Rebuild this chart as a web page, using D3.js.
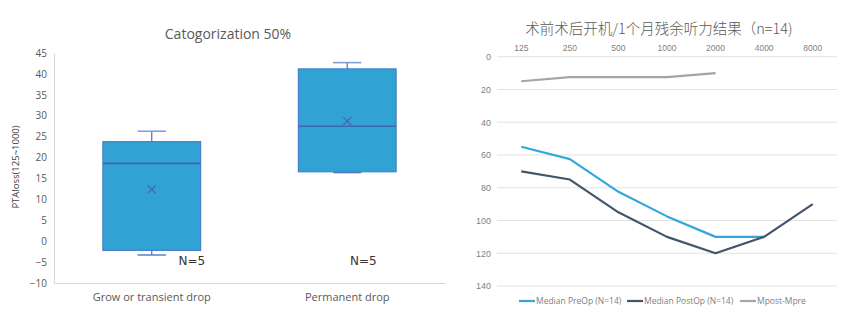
<!DOCTYPE html>
<html>
<head>
<meta charset="utf-8">
<script src="https://cdn.jsdelivr.net/npm/d3@7"></script>
<style>
  body { margin: 0; background: #fff; }
  svg { display: block; font-family: "Open Sans", "Noto Sans", sans-serif; }
</style>
</head>
<body>
<svg id="drawing_region"></svg>
<script>
// left chart: box plot stats
const boxCategories = ["Grow or transient drop", "Permanent drop"];
const whiskerHigh = [26.3, 42.7];
const q3Values = [23.8, 41.2];
const medianValues = [18.6, 27.5];
const meanValues = [12.4, 28.7];
const q1Values = [-2.2, 16.6];
const whiskerLow = [-3.3, 16.4];
const nLabels = ["N=5", "N=5"];
const boxTicks = d3.range(-10, 50, 5);

// right chart: audiogram
const freqs = ["125", "250", "500", "1000", "2000", "4000", "8000"];
const preOp = [55, 62.5, 82.5, 97.5, 110, 110, null];
const postOp = [70, 75, 95, 110, 120, 110, 90];
const diffPost = [15, 12.5, 12.5, 12.5, 10, null, null];
const hearingTicks = [0, 20, 40, 60, 80, 100, 120, 140];
const seriesNames = ["Median PreOp (N=14)", "Median PostOp (N=14)", "Mpost-Mpre"];

const svg = d3.select('#drawing_region')
    .attr('width', 856)
    .attr('height', 320);

// ---------- left: box plot ----------
const bx = d3.scaleBand().domain(boxCategories).range([54, 445]);
const by = d3.scaleLinear().domain([-10, 45]).range([283, 53]);

svg.append('text')
    .attr('x', 228).attr('y', 39)
    .attr('text-anchor', 'middle')
    .attr('font-size', '14px')
    .attr('fill', '#595959')
    .text('Catogorization 50%');

svg.append('text')
    .attr('transform', 'translate(19,167) rotate(-90)')
    .attr('text-anchor', 'middle')
    .attr('font-size', '9.5px')
    .attr('fill', '#404040')
    .text('PTAloss(125~1000)');

const yAxisL = svg.append('g')
    .attr('transform', 'translate(54,0)')
    .call(d3.axisLeft(by).tickValues(boxTicks).tickSize(0).tickPadding(7));
yAxisL.select('.domain').attr('stroke', '#d9d9d9');
yAxisL.selectAll('text').attr('font-size', '10px').attr('fill', '#595959')
    .attr('font-family', '"Open Sans", sans-serif');

const xAxisL = svg.append('g')
    .attr('transform', `translate(0,${by(-10)})`)
    .call(d3.axisBottom(bx).tickSize(0).tickPadding(10));
xAxisL.select('.domain').attr('stroke', '#d9d9d9');
xAxisL.selectAll('text').attr('font-size', '11px').attr('fill', '#595959')
    .attr('font-family', '"Open Sans", sans-serif');

const boxW = bx.bandwidth() * 0.5;
const capW = boxW * 0.29;
const boxes = svg.append('g').selectAll('g')
    .data(boxCategories)
    .join('g')
    .attr('transform', d => `translate(${bx(d) + bx.bandwidth() / 2},0)`);

boxes.append('line')
    .attr('y1', (d, i) => by(whiskerHigh[i]))
    .attr('y2', (d, i) => by(q3Values[i]))
    .attr('stroke', '#4472c4').attr('stroke-width', 1.2);
boxes.append('line')
    .attr('y1', (d, i) => by(whiskerLow[i]))
    .attr('y2', (d, i) => by(q1Values[i]))
    .attr('stroke', '#4472c4').attr('stroke-width', 1.2);
boxes.append('line')
    .attr('x1', -capW / 2).attr('x2', capW / 2)
    .attr('y1', (d, i) => by(whiskerHigh[i]))
    .attr('y2', (d, i) => by(whiskerHigh[i]))
    .attr('stroke', '#7d9bd6').attr('stroke-width', 1.5);
boxes.append('line')
    .attr('x1', -capW / 2).attr('x2', capW / 2)
    .attr('y1', (d, i) => by(whiskerLow[i]))
    .attr('y2', (d, i) => by(whiskerLow[i]))
    .attr('stroke', '#5b7fcb').attr('stroke-width', 1.5);
boxes.append('rect')
    .attr('x', -boxW / 2).attr('width', boxW)
    .attr('y', (d, i) => by(q3Values[i]))
    .attr('height', (d, i) => by(q1Values[i]) - by(q3Values[i]))
    .attr('fill', '#31a2d4')
    .attr('stroke', '#4a7fc8').attr('stroke-width', 1.2);
boxes.append('line')
    .attr('x1', -boxW / 2).attr('x2', boxW / 2)
    .attr('y1', (d, i) => by(medianValues[i]))
    .attr('y2', (d, i) => by(medianValues[i]))
    .attr('stroke', '#3f66b0').attr('stroke-width', 1.6);
boxes.append('path')
    .attr('d', (d, i) => {
        const y = by(meanValues[i]);
        return `M-4,${y - 4}L4,${y + 4}M-4,${y + 4}L4,${y - 4}`;
    })
    .attr('stroke', '#3f66b0').attr('stroke-width', 1.2);

// N labels, placed as text boxes beside each box
const nOffsets = [40, 16];
boxes.append('text')
    .attr('x', (d, i) => nOffsets[i])
    .attr('y', 265)
    .attr('text-anchor', 'middle')
    .attr('font-family', '"DejaVu Sans", sans-serif')
    .attr('font-size', '12px')
    .attr('fill', '#333')
    .text((d, i) => nLabels[i]);

// ---------- right: audiogram ----------
const rx = d3.scaleBand().domain(freqs).range([497, 837]);
const ry = d3.scaleLinear().domain([0, 140]).range([56.7, 286]);
const cx = d => rx(d) + rx.bandwidth() / 2;

svg.append('text')
    .attr('x', 659).attr('y', 34)
    .attr('text-anchor', 'middle')
    .attr('font-family', '"Noto Sans CJK SC", sans-serif')
    .attr('font-size', '14.5px')
    .attr('font-weight', 300)
    .attr('fill', '#595959')
    .text('术前术后开机/1个月残余听力结果（n=14)');

svg.append('g').selectAll('line')
    .data(hearingTicks)
    .join('line')
    .attr('x1', 497).attr('x2', 837)
    .attr('y1', d => ry(d)).attr('y2', d => ry(d))
    .attr('stroke', '#e3e3e3').attr('stroke-width', 1);

const yAxisR = svg.append('g')
    .attr('transform', 'translate(497,0)')
    .call(d3.axisLeft(ry).tickValues(hearingTicks).tickSize(0).tickPadding(6));
yAxisR.select('.domain').remove();
yAxisR.selectAll('text').attr('font-size', '9px').attr('fill', '#7f7f7f');

const xAxisR = svg.append('g')
    .attr('transform', 'translate(0,51)')
    .call(d3.axisTop(rx).tickSize(0).tickPadding(0));
xAxisR.select('.domain').remove();
xAxisR.selectAll('text').attr('font-size', '8.5px').attr('fill', '#7f7f7f');

const line = d3.line()
    .defined(d => d.v != null)
    .x(d => cx(d.f))
    .y(d => ry(d.v));

const series = [
    { name: seriesNames[0], values: preOp, color: '#31a7dc' },
    { name: seriesNames[1], values: postOp, color: '#44546a' },
    { name: seriesNames[2], values: diffPost, color: '#a5a5a5' }
];

svg.append('g').selectAll('path')
    .data(series)
    .join('path')
    .attr('d', s => line(freqs.map((f, i) => ({ f: f, v: s.values[i] }))))
    .attr('fill', 'none')
    .attr('stroke', s => s.color)
    .attr('stroke-width', 2.2)
    .attr('stroke-linejoin', 'round');

const legendX = [519, 627, 740];
const legend = svg.append('g').selectAll('g')
    .data(series)
    .join('g')
    .attr('transform', (s, i) => `translate(${legendX[i]},301)`);
legend.append('line')
    .attr('x1', 0).attr('x2', 16)
    .attr('stroke', s => s.color).attr('stroke-width', 2.2);
legend.append('text')
    .attr('x', 17).attr('y', 3)
    .attr('font-size', '8.5px')
    .attr('fill', '#7f7f7f')
    .text(s => s.name);
</script>
</body>
</html>
